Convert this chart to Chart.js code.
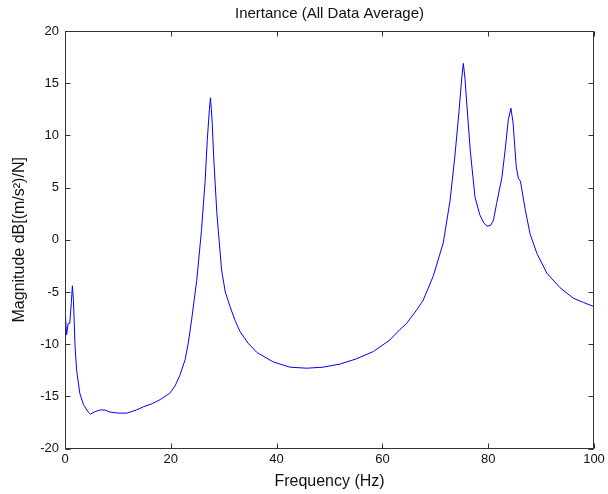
<!DOCTYPE html>
<html>
<head>
<meta charset="utf-8">
<script src="https://cdn.jsdelivr.net/npm/chart.js@4.4.1/dist/chart.umd.min.js"></script>
<style>
  html, body { margin: 0; padding: 0; background: #fff; }
  #wrap { width: 608px; height: 494px; }
</style>
</head>
<body>
<div id="wrap"><canvas id="chart" width="608" height="494"></canvas></div>
<script>
// frequency (Hz) and magnitude (dB)
const freq = [0, 0.3, 0.6, 0.9, 1.2, 1.4, 1.6, 1.9, 2.2, 2.8, 3.5, 4.4, 4.8, 5.5, 6.6, 7.5, 8.5, 10, 11.7, 13.5,
  14.8, 16.5, 18, 19.8, 20.8, 21.7, 22.7, 23.3, 23.9, 24.9, 25.8, 26.5, 26.9, 27.3, 27.5, 27.8, 28.1, 28.7, 29.6, 30.3,
  31.2, 32.2, 33.1, 34.6, 36.3, 38, 39.4, 42.5, 45.7, 48.8, 52, 55.1, 58.3, 61.4, 63.3, 64.6, 66.5, 67.7, 69.6, 71.5,
  72.8, 73.7, 74.5, 75.0, 75.3, 75.6, 75.9, 76.6, 77.5, 78.4, 79.2, 79.8, 80.5, 81.0, 81.6, 82.6, 83.2, 83.8, 84.3, 84.7,
  85.3, 85.7, 86.1, 87.0, 87.9, 89.2, 91.1, 93.6, 96.1, 98, 100];
const magnitude = [-6.6, -9.1, -8.0, -8.0, -6.0, -4.4, -5.8, -10.2, -12.5, -14.7, -15.8, -16.5, -16.7, -16.5, -16.3, -16.3, -16.5, -16.6, -16.6, -16.3,
  -16.0, -15.7, -15.3, -14.7, -14.0, -13.0, -11.5, -9.9, -7.8, -3.9, 0.9, 5.7, 9.6, 12.5, 13.6, 11.5, 8.0, 2.6, -2.9, -5.0,
  -6.4, -7.8, -8.8, -9.9, -10.8, -11.3, -11.7, -12.2, -12.3, -12.2, -11.9, -11.4, -10.7, -9.6, -8.6, -8.0, -6.7, -5.8, -3.5, -0.3,
  3.8, 8.0, 12.4, 15.5, 16.9, 15.5, 13.4, 8.6, 4.1, 2.4, 1.6, 1.3, 1.4, 1.9, 3.5, 6.0, 8.6, 11.5, 12.6, 11.2,
  7.0, 5.9, 5.6, 2.9, 0.6, -1.3, -3.2, -4.6, -5.6, -6.0, -6.4];

const xTicks = [0, 20, 40, 60, 80, 100];
const yTicks = [-20, -15, -10, -5, 0, 5, 10, 15, 20];

const fontFamily = '"Liberation Sans", Arial, Helvetica, sans-serif';

// matlab style box with inward ticks on all four sides
const boxTicks = {
  id: 'boxTicks',
  afterDraw(chart) {
    const { ctx, chartArea: a, scales: { x, y } } = chart;
    const L = Math.round(a.left) + 0.5, R = Math.round(a.right) - 0.5;
    const T = Math.round(a.top) + 0.5, B = Math.round(a.bottom) - 0.5;
    const len = 5;
    ctx.save();
    ctx.strokeStyle = '#333';
    ctx.lineWidth = 1;
    ctx.strokeRect(L, T, R - L, B - T);
    ctx.beginPath();
    xTicks.forEach(v => {
      const px = Math.round(x.getPixelForValue(v)) + 0.5;
      ctx.moveTo(px, B); ctx.lineTo(px, B - len);
      ctx.moveTo(px, T); ctx.lineTo(px, T + len);
    });
    yTicks.forEach(v => {
      const py = Math.round(y.getPixelForValue(v)) + 0.5;
      ctx.moveTo(L, py); ctx.lineTo(L + len, py);
      ctx.moveTo(R, py); ctx.lineTo(R - len, py);
    });
    ctx.stroke();
    ctx.restore();
  }
};

new Chart(document.getElementById('chart'), {
  type: 'line',
  data: {
    datasets: [{
      data: freq.map((f, i) => ({ x: f, y: magnitude[i] })),
      borderColor: '#0000ff',
      borderWidth: 1,
      pointRadius: 0,
      tension: 0,
      fill: false
    }]
  },
  options: {
    responsive: false,
    animation: false,
    layout: { padding: { left: 0, right: 14, top: 0, bottom: 0 } },
    plugins: {
      legend: { display: false },
      tooltip: { enabled: false },
      title: { display: false }
    },
    scales: {
      // top axis only carries the chart title, so it centres over the plot box
      top: {
        type: 'linear',
        position: 'top',
        min: 0,
        max: 100,
        afterFit: s => { s.height = 31; },
        grid: { display: false, drawTicks: false },
        border: { display: false },
        ticks: { display: false },
        title: {
          display: true,
          text: 'Inertance (All Data Average)',
          color: '#111',
          font: { family: fontFamily, size: 15 },
          padding: { top: 5, bottom: 0 }
        }
      },
      x: {
        type: 'linear',
        position: 'bottom',
        min: 0,
        max: 100,
        afterBuildTicks: s => { s.ticks = xTicks.map(v => ({ value: v })); },
        afterFit: s => { s.height = 45.4; },
        grid: { display: false, drawTicks: false },
        border: { display: false },
        ticks: { color: '#111', padding: 3, maxRotation: 0, font: { family: fontFamily, size: 13 } },
        title: {
          display: true,
          text: 'Frequency (Hz)',
          color: '#111',
          font: { family: fontFamily, size: 16 },
          padding: { top: 0, bottom: 2.4 }
        }
      },
      y: {
        type: 'linear',
        min: -20,
        max: 20,
        afterBuildTicks: s => { s.ticks = yTicks.map(v => ({ value: v })); },
        afterFit: s => { s.width = 65; },
        grid: { display: false, drawTicks: false },
        border: { display: false },
        ticks: { color: '#111', padding: 6, font: { family: fontFamily, size: 13 } },
        title: {
          display: true,
          text: 'Magnitude dB[(m/s²)/N]',
          color: '#111',
          font: { family: fontFamily, size: 16 },
          padding: { top: 10.4, bottom: 0 }
        }
      }
    }
  },
  plugins: [boxTicks]
});
</script>
</body>
</html>
